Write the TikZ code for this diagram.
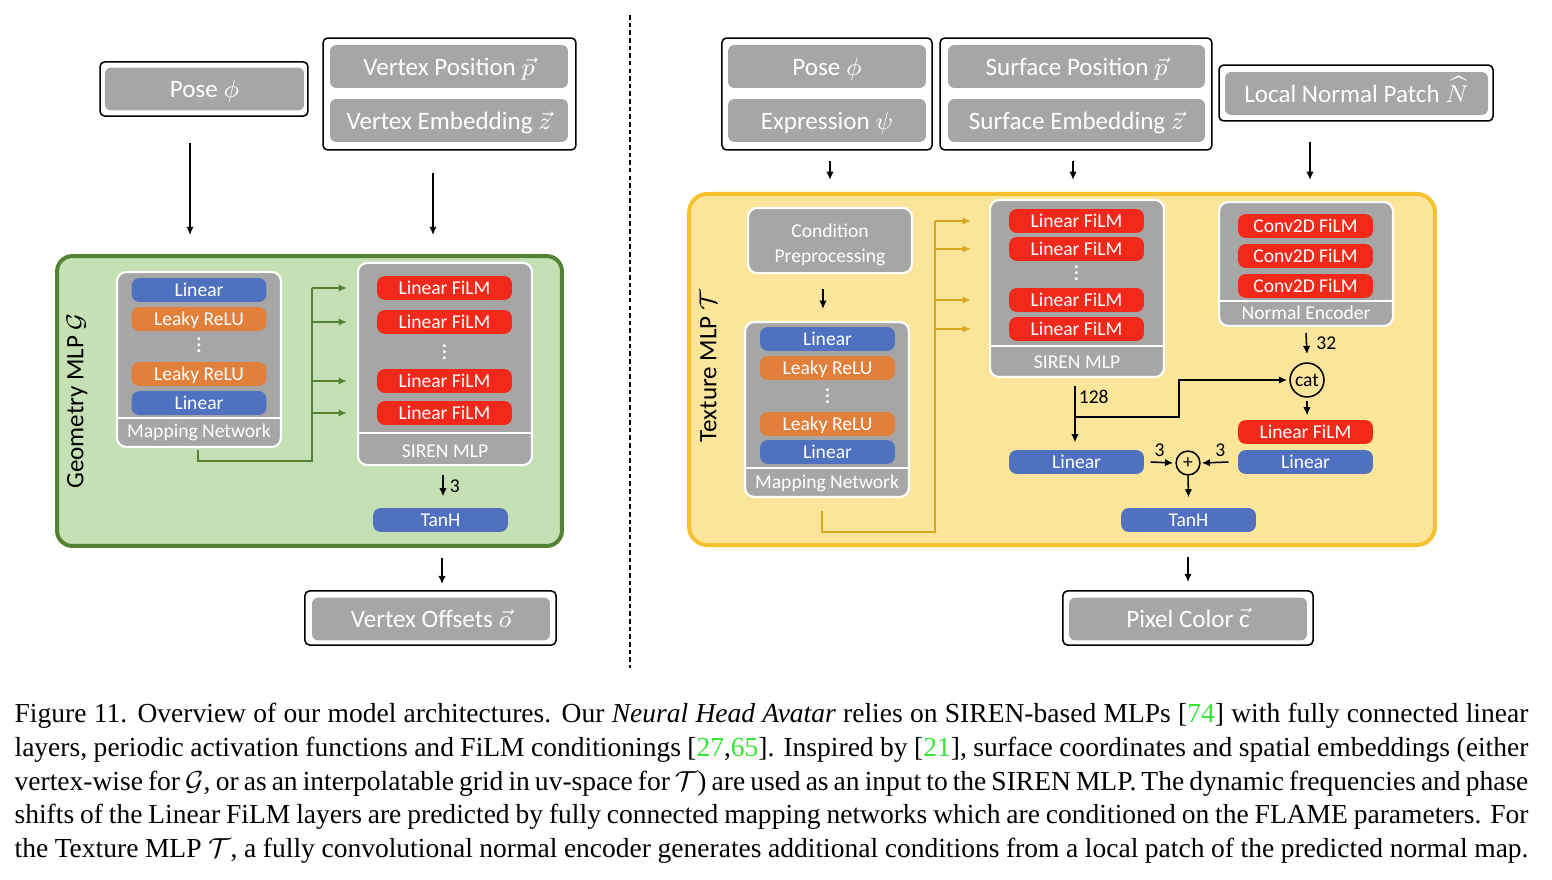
\documentclass[tikz,border=0pt]{standalone}
\usepackage{fontspec}
\setmainfont{Liberation Serif}
\newfontfamily\diagfont{Carlito}
\usetikzlibrary{positioning, calc, arrows.meta}
\definecolor{linblue}{HTML}{4F71C0}
\definecolor{reluorange}{HTML}{E27F3A}
\definecolor{filmred}{HTML}{F2281A}
\definecolor{blockgray}{HTML}{A6A6A6}
\definecolor{geogreen}{HTML}{548235}
\definecolor{geofill}{HTML}{C5E0B4}
\definecolor{texgold}{HTML}{F6C12B}
\definecolor{texfill}{HTML}{FAE59B}
\definecolor{texline}{HTML}{D9A61E}
\definecolor{citegreen}{HTML}{33E633}
\newcommand{\gcite}[1]{\textcolor{citegreen}{#1}}
\newcommand{\vdts}{\vbox{\baselineskip=2pt\lineskiplimit=-10pt\hbox{.}\hbox{.}\hbox{.}}}

\begin{document}
\begin{tikzpicture}[x=0.327pt, y=-0.327pt, >={Latex[length=2.7pt,width=2.4pt]},
	lay/.style={rectangle, rounded corners=2.5pt, minimum width=44.1pt, minimum height=7.8pt, inner sep=0pt, text height=4.8pt, text depth=0.4pt, text=white, font=\diagfont\fontsize{6.4}{7}\selectfont},
	lin/.style={lay, fill=linblue}, relu/.style={lay, fill=reluorange}, film/.style={lay, fill=filmred},
	grp/.style={rectangle, rounded corners=3pt, fill=blockgray, draw=white, line width=0.7pt, inner sep=0pt},
	grplab/.style={text=white, inner sep=0pt, font=\diagfont\fontsize{6.4}{8.2}\selectfont},
	inp/.style={rectangle, rounded corners=2pt, fill=blockgray, minimum height=14pt, inner sep=0pt, text height=6.4pt, text depth=0.8pt, text=white, font=\diagfont\fontsize{8.2}{9}\selectfont},
	frame/.style={rectangle, rounded corners=1.5pt, draw, line width=0.5pt, inner sep=0pt},
	arr/.style={->, line width=0.5pt}, gline/.style={geogreen, line width=0.65pt}, yline/.style={texline, line width=0.65pt},
	num/.style={inner sep=0pt, font=\diagfont\fontsize{6.4}{7}\selectfont},
	vdot/.style={text=white, inner sep=0pt, font=\diagfont\fontsize{8}{8}\selectfont},
	mlp/.style={rotate=90, inner sep=0pt, font=\diagfont\fontsize{8.2}{9}\selectfont}]
	\useasboundingbox (0,0) rectangle (1552,880);

	% geometry MLP
	\node[frame, minimum width=68pt, minimum height=17.7pt] (poseLo) at (204,89) {};
	\node[inp, minimum width=65.1pt] (poseL) at (204.5,89) {Pose $\phi$};
	\node[frame, minimum width=82.7pt, minimum height=36.6pt] (vtxo) at (449.5,94) {};
	\node[inp, minimum width=77.8pt] (vpos) at (449,66.5) {Vertex Position $\vec{p}$};
	\node[inp, minimum width=77.8pt] (vemb) at (449,120.5) {Vertex Embedding $\vec{z}$};
	\node[rectangle, rounded corners=5pt, draw=geogreen, fill=geofill, line width=1.3pt, minimum width=165.1pt, minimum height=94.8pt] (geo) at (309.5,401) {};
	\node[mlp] (geolab) at (77,401) {Geometry MLP $\mathcal{G}$};

	\node[grp, minimum width=53.6pt, minimum height=57.2pt] (mapL) at (199,359.5) {};
	\node[lin] (mL1) at (199,290) {Linear};
	\node[relu] (mL2) [below=1.3pt of mL1] {Leaky ReLU};
	\node[vdot] (mLd) at (199,345) {\vdts};
	\node[relu] (mL3) at (199,374) {Leaky ReLU};
	\node[lin] (mL4) [below=1.3pt of mL3] {Linear};
	\node[grplab] (mapLlab) at (199,432) {Mapping Network};

	\node[grp, minimum width=56.9pt, minimum height=66.1pt] (sirL) at (445,364) {};
	\node[film] (fL1) at (444.5,288) {Linear FiLM};
	\node[film] (fL2) at (444.5,322) {Linear FiLM};
	\node[vdot] (fLd) at (444.5,352) {\vdts};
	\node[film] (fL3) at (444.5,381) {Linear FiLM};
	\node[film] (fL4) at (444.5,413) {Linear FiLM};
	\node[grplab] (sirLlab) at (445,451) {SIREN MLP};
	\node[lin] (tanhL) at (440.5,520) {TanH};

	\node[frame, minimum width=82.1pt, minimum height=17.7pt] (offso) at (430.5,618) {};
	\node[inp, minimum width=77.8pt] (offs) at (431,619) {Vertex Offsets $\vec{o}$};

	\draw[arr] ($(poseLo.south)+(-14,26)$) -- ($(poseLo.south |- geo.north)+(-14,-19)$);
	\draw[arr] ($(vtxo.south)+(-16.5,22)$) -- ($(vtxo.south |- geo.north)+(-16.5,-19)$);
	\coordinate (busL) at (312,461);
	\draw[gline] ($(mapL.south)+(-1,2)$) |- (busL) -- (busL |- fL1);
	\foreach \f in {fL1,fL2,fL3,fL4} \draw[gline, ->] (busL |- \f) -- ($(sirL.west |- \f)+(-10,0)$);
	\draw[arr] ($(sirL.south)+(-2,9)$) -- ($(tanhL.north)+(2.5,-11)$) node[num, midway, right=2pt] {3};
	\draw[arr] ($(geo.south -| tanhL)+(1.5,10)$) -- ($(offso.north -| tanhL)+(1.5,-6)$);

	\draw[dashed, dash pattern=on 1.5pt off 1pt, line width=0.5pt] (630,15) -- (630,668);

	% texture MLP
	\node[frame, minimum width=68.7pt, minimum height=36.6pt] (poseRo) at (827,94) {};
	\node[inp, minimum width=64.7pt] (poseR) at (827,66.5) {Pose $\phi$};
	\node[inp, minimum width=64.7pt] (expr) at (827,120.5) {Expression $\psi$};
	\node[frame, minimum width=88.9pt, minimum height=36.6pt] (surfo) at (1076,94) {};
	\node[inp, minimum width=84pt] (spos) at (1076.5,66.5) {Surface Position $\vec{p}$};
	\node[inp, minimum width=84pt] (semb) at (1076.5,120.5) {Surface Embedding $\vec{z}$};
	\node[frame, minimum width=89.6pt, minimum height=18.3pt] (lnpo) at (1356,93) {};
	\node[inp, minimum width=86pt] (lnp) at (1356.5,93.5) {Local Normal Patch $\widehat{N}$};
	\node[rectangle, rounded corners=6pt, draw=texgold, fill=texfill, line width=1.3pt, minimum width=243.9pt, minimum height=114.8pt] (tex) at (1062,369.5) {};
	\node[mlp] (texlab) at (708,366) {Texture MLP $\mathcal{T}$};

	\node[grp, minimum width=53.6pt, minimum height=21.3pt] (cond) at (830,240.5) {};
	\node[grplab, align=center] (condlab) at (830,244.5) {Condition\\Preprocessing};
	\node[grp, minimum width=53.6pt, minimum height=57.2pt] (mapR) at (827,409.5) {};
	\node[lin] (mR1) at (827.5,339) {Linear};
	\node[relu] (mR2) at (827.5,368) {Leaky ReLU};
	\node[vdot] (mRd) at (827.5,396) {\vdts};
	\node[relu] (mR3) at (827.5,424) {Leaky ReLU};
	\node[lin] (mR4) at (827.5,452) {Linear};
	\node[grplab] (mapRlab) at (827,483) {Mapping Network};

	\node[grp, minimum width=56.9pt, minimum height=57.9pt] (sirR) at (1077,288.5) {};
	\node[film] (fR1) at (1076.5,221) {Linear FiLM};
	\node[film] (fR2) at (1076.5,249) {Linear FiLM};
	\node[vdot] (fRd) at (1076.5,273) {\vdts};
	\node[film] (fR3) at (1076.5,300) {Linear FiLM};
	\node[film] (fR4) at (1076.5,329) {Linear FiLM};
	\node[grplab] (sirRlab) at (1077,362) {SIREN MLP};

	\node[grp, minimum width=56.9pt, minimum height=40.5pt] (nenc) at (1306,264) {};
	\node[film] (cv1) at (1305.5,226) {Conv2D FiLM};
	\node[film] (cv2) at (1305.5,256) {Conv2D FiLM};
	\node[film] (cv3) at (1305.5,286) {Conv2D FiLM};
	\node[grplab] (nenclab) at (1306,313) {Normal Encoder};
	\foreach \g/\y in {mapL/418, sirL/433, mapR/468, sirR/346, nenc/301} \draw[white, line width=0.5pt] (\g.west |- 0,\y) -- (\g.east |- 0,\y);

	\node[circle, draw, line width=0.5pt, minimum size=11.1pt, inner sep=0pt, font=\diagfont\fontsize{6.4}{7}\selectfont] (cat) at (1307,380) {cat};
	\node[film] (fR5) at (1305.5,432) {Linear FiLM};
	\node[lin] (linR2) at (1305.5,462) {Linear};
	\node[lin] (linR1) at (1076.5,462) {Linear};
	\node[circle, draw, line width=0.5pt, minimum size=7.8pt, inner sep=0pt, font=\diagfont\fontsize{6.4}{7}\selectfont] (plus) at (1188,463) {+};
	\node[lin] (tanhR) at (1188.5,520) {TanH};
	\node[frame, minimum width=81.8pt, minimum height=17.7pt] (pixo) at (1188,618) {};
	\node[inp, minimum width=77.8pt] (pix) at (1188,619) {Pixel Color $\vec{\mbox{c}}$};

	\draw[arr] ($(poseRo.south)+(3,10)$) -- ($(poseRo.south |- tex.north)+(3,-12)$);
	\draw[arr] ($(surfo.south)+(-3,10)$) -- ($(surfo.south |- tex.north)+(-3,-12)$);
	\draw[arr] ($(lnpo.south -| nenc)+(4,20)$) -- ($(tex.north -| nenc)+(4,-12)$);
	\draw[arr] ($(cond.south)+(-7,15)$) -- ($(mapR.north)+(-4,-12)$);
	\coordinate (busR) at (935,532);
	\draw[yline] ($(mapR.south)+(-5,13)$) |- (busR) -- (busR |- fR1);
	\foreach \f in {fR1,fR2,fR3,fR4} \draw[yline, ->] (busR |- \f) -- ($(sirR.west |- \f)+(-18,0)$);
	\draw[arr] ($(nenc.south)+(0,6)$) -- ($(cat.north)+(0,-8)$) node[num, midway, right=3pt] {32};
	\draw[arr] ($(sirR.south)+(-2,8)$) -- ($(linR1.north)+(-1.5,-7)$) node[num, pos=0.2, right=1pt] {128};
	\coordinate (brR) at ($(sirR.south)+(-2,39)$);
	\coordinate (knee) at ($(cat.west -| plus)+(-9,0)$);
	\draw[arr] (brR) -| (knee) -- ($(cat.west)+(-2,0)$);
	\draw[arr] ($(cat.south)+(0,3)$) -- ($(fR5.north)+(1.5,-4)$);
	\draw[arr] ($(linR1.east)+(6,0)$) -- ($(plus.west)+(-2,0)$) node[num, pos=0.4, above=1.5pt] {3};
	\draw[arr] ($(linR2.west)+(-9,0)$) -- ($(plus.east)+(1,0)$) node[num, pos=0.3, above=1.5pt] {3};
	\draw[arr] (plus.south) -- ($(tanhR.north)+(0,-10)$);
	\draw[arr] ($(tex.south -| tanhR)+(-0.5,10)$) -- ($(pixo.north -| tanhR)+(-0.5,-8)$);

	\node[anchor=north west, inner sep=0pt, text width=495pt, align=justify, font=\fontsize{9}{11}\selectfont] (capt) at (14,703) {Figure 11. Overview of our model architectures. Our \emph{Neural Head Avatar} relies on SIREN-based MLPs [\gcite{74}] with fully connected linear\linebreak layers, periodic activation functions and FiLM conditionings [\gcite{27},\gcite{65}]. Inspired by [\gcite{21}], surface coordinates and spatial embeddings (either\linebreak vertex-wise for $\mathcal{G}$, or as an interpolatable grid in uv-space for $\mathcal{T}$) are used as an input to the SIREN MLP. The dynamic frequencies and phase\linebreak shifts of the Linear FiLM layers are predicted by fully connected mapping networks which are conditioned on the FLAME parameters. For\linebreak the Texture MLP $\mathcal{T}$, a fully convolutional normal encoder generates additional conditions from a local patch of the predicted normal map.};
\end{tikzpicture}
\end{document}
